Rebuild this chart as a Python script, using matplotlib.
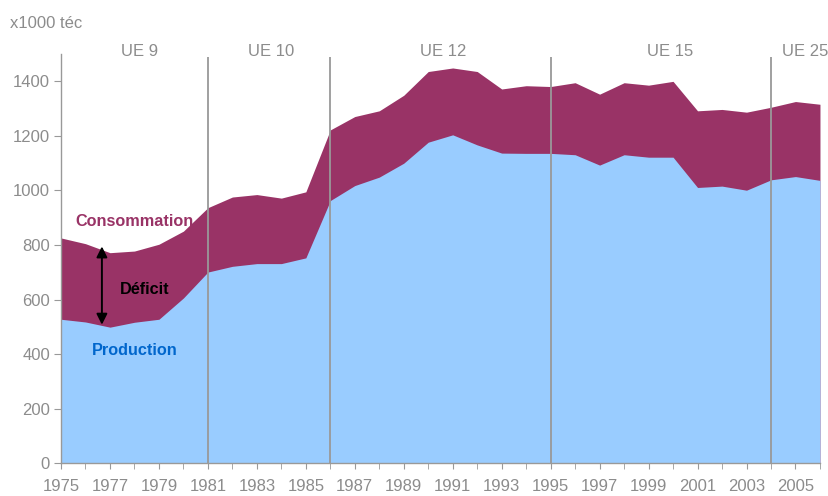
import numpy as np
import matplotlib
matplotlib.use('Agg')
from matplotlib import pyplot as plt

years = np.arange(1975, 2007)
consommation = [826, 805, 772, 778, 803, 851, 937, 976, 985, 972, 995,
                1222, 1271, 1292, 1349, 1436, 1449, 1436, 1372, 1384, 1381,
                1395, 1353, 1395, 1386, 1400, 1292, 1297, 1287, 1305, 1326, 1316]
production = [528, 518, 499, 517, 528, 606, 701, 722, 732, 732, 753,
              963, 1018, 1049, 1100, 1177, 1204, 1167, 1137, 1136, 1136,
              1131, 1093, 1131, 1122, 1122, 1011, 1016, 1001, 1039, 1051, 1037]
elargissements = [1981, 1986, 1995, 2004]
periodes = ['UE 9', 'UE 10', 'UE 12', 'UE 15', 'UE 25']
periode_x = [1978.2, 1983.6, 1990.6, 1999.9, 2005.4]

plt.rcParams['font.family'] = ['Liberation Sans', 'DejaVu Sans']
grey = '#8c8c8c'

fig = plt.figure(figsize=(8.29, 4.96), dpi=100)
ax = fig.add_axes([0.0736, 0.0659, 0.9155, 0.8251])

ax.fill_between(years, 0, consommation, color='#993366', lw=0)
ax.fill_between(years, 0, production, color='#99CCFF', lw=0)

ax.vlines(elargissements, 0, 1488, color='#999999', lw=1.3)

ax.set_xlim(1975, 2006)
ax.set_ylim(0, 1500)
ax.set_yticks(range(0, 1401, 200))
ax.set_xticks(range(1975, 2006, 2))
ax.set_xticks(range(1975, 2007), minor=True)

for s in ['top', 'right']:
	ax.spines[s].set_visible(False)
for s in ['left', 'bottom']:
	ax.spines[s].set_color('#999999')
	ax.spines[s].set_linewidth(1.0)
ax.tick_params(axis='both', which='both', colors='#999999', labelcolor=grey,
               labelsize=12, direction='out')
ax.tick_params(axis='y', length=5, pad=3)
ax.tick_params(axis='x', which='both', length=4, pad=7)

for lab, x in zip(periodes, periode_x):
	ax.text(x, 1509, lab, ha='center', va='center', fontsize=12,
	        color=grey, clip_on=False)

fig.text(10 / 829, 1 - 24 / 496, 'x1000 téc', ha='left', va='center',
         fontsize=12, color=grey)

ax.text(1978.0, 888, 'Consommation', ha='center', va='center',
        fontsize=11.7, fontweight='bold', color='#993366')
ax.text(1978.43, 638, 'Déficit', ha='center', va='center',
        fontsize=11.7, fontweight='bold', color='black')
ax.text(1978.0, 412, 'Production', ha='center', va='center',
        fontsize=11.7, fontweight='bold', color='#0066CC')

ax.annotate('', xy=(1976.67, 508), xytext=(1976.67, 795),
            arrowprops=dict(arrowstyle='<|-|>', color='black', lw=1.4,
                            mutation_scale=16, shrinkA=0, shrinkB=0))

fig.savefig('out.png', dpi=100)
